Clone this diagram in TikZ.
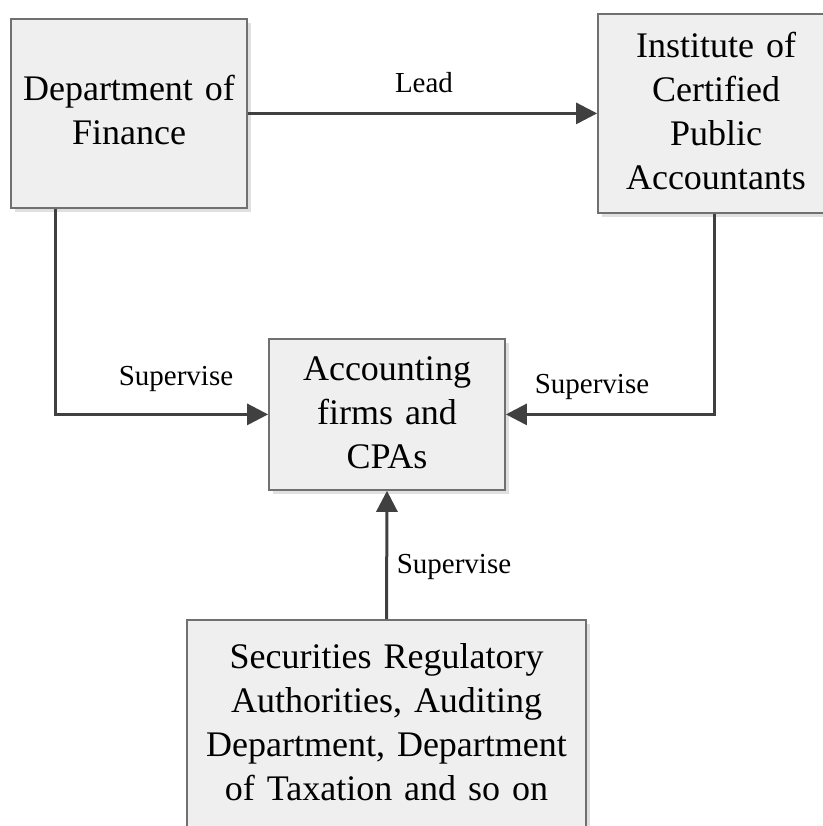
\documentclass[tikz,border=0pt]{standalone}
\usepackage{fontspec}
\setmainfont{Liberation Serif}
\usetikzlibrary{arrows.meta,shadows}
\definecolor{boxfill}{HTML}{EFEFEF}
\definecolor{boxline}{HTML}{707070}
\definecolor{conncol}{HTML}{404040}
\tikzset{
  box/.style={draw=boxline, line width=1.8pt, fill=boxfill, anchor=north,
    inner sep=0pt, align=center, font=\fontsize{36}{44}\selectfont,
    drop shadow={shadow xshift=4pt, shadow yshift=-4pt, fill=black!12, opacity=1}},
  conn/.style={draw=conncol, line width=3pt, -{Triangle[length=21pt,width=21pt]}},
  lbl/.style={anchor=base, inner sep=0pt, font=\fontsize{29}{34}\selectfont}
}
\begin{document}
\begin{tikzpicture}[x=1pt,y=-1pt]
\useasboundingbox (0,0) rectangle (822,826);
\node[box, text width=236pt, text height=82pt, text depth=107pt] (fin) at (129,18) {Department of\\Finance};
\node[box, text width=236pt, text height=44pt, text depth=155pt] (inst) at (716,13) {Institute of\\Certified\\Public\\Accountants};
\node[box, text width=236pt, text height=42pt, text depth=109pt] (acc) at (387,338) {Accounting\\firms and\\CPAs};
\node[box, text width=399pt, text height=49pt, text depth=240pt] (sec) at (386.5,619) {Securities Regulatory\\Authorities, Auditing\\Department, Department\\of Taxation and so on};
\draw[conn] (fin.east) -- (inst.west);
\draw[conn] ([xshift=45pt]fin.south west) |- (acc.west);
\draw[conn] ([xshift=117pt]inst.south west) |- (acc.east);
\draw[conn] (sec.north) -- (acc.south);
\node[lbl] (lead) at (424,93) {Lead};
\node[lbl] (sup1) at (176,385) {Supervise};
\node[lbl] (sup2) at (592,393) {Supervise};
\node[lbl] (sup3) at (454,573) {Supervise};
\end{tikzpicture}
\end{document}
